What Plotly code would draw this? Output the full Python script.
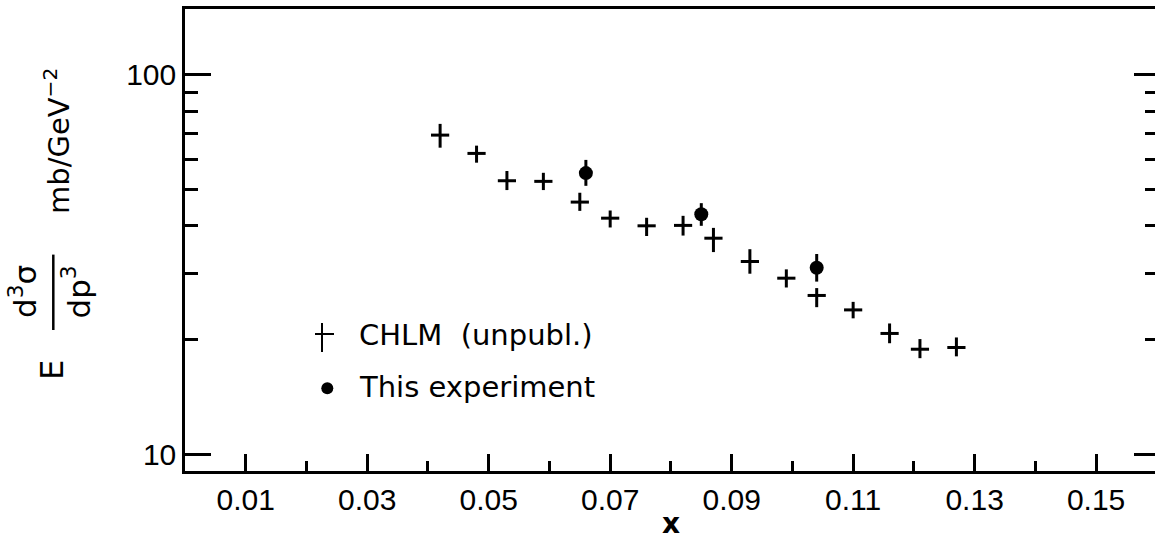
import plotly.graph_objects as go

# ---- data ----
chlm_x = [0.042, 0.048, 0.053, 0.059, 0.065, 0.070, 0.076, 0.082, 0.087,
          0.093, 0.099, 0.104, 0.110, 0.116, 0.121, 0.127]
chlm_y = [69.4, 62.1, 52.6, 52.4, 46.2, 41.9, 40.0, 40.1, 37.1,
          32.2, 29.1, 26.2, 24.0, 20.8, 18.9, 19.1]
chlm_hi = [74.3, 65.1, 55.8, 55.2, 48.9, 43.9, 42.0, 42.5, 39.5,
           34.7, 30.7, 27.4, 25.2, 22.1, 20.1, 20.3]
chlm_lo = [64.3, 58.7, 49.7, 49.7, 43.8, 39.6, 37.6, 37.7, 34.1,
           29.9, 27.5, 24.4, 22.8, 19.6, 17.9, 18.1]

exp_x = [0.066, 0.085, 0.104]
exp_y = [55.1, 42.9, 31.0]
exp_hi = [59.7, 45.9, 33.7]
exp_lo = [51.0, 40.0, 28.5]

x_major = [0.01, 0.03, 0.05, 0.07, 0.09, 0.11, 0.13, 0.15]
x_labels = ["0.01", "0.03", "0.05", "0.07", "0.09", "0.11", "0.13", "0.15"]
x_minor = [0.02, 0.04, 0.06, 0.08, 0.10, 0.12, 0.14]
y_major = [10, 100]
y_labels = ["10", "100"]
y_minor = [20, 30, 40, 50, 60, 70, 80, 90]

legend_labels = ["CHLM  (unpubl.)", "This experiment"]

# ---- geometry helpers (pixel -> paper) ----
W, H = 1155, 541
L, R, T, B = 185, 0, 9, 70
PW, PH = W - L - R, H - T - B


def px(x):
    return (x - L) / PW


def py(y):
    return (H - B - y) / PH


fig = go.Figure()

fig.add_trace(go.Scatter(
    x=chlm_x, y=chlm_y, mode="markers", showlegend=False,
    marker=dict(symbol="line-ew", size=13, color="black",
                line=dict(width=3, color="black")),
    error_y=dict(type="data", symmetric=False,
                 array=[h - v for h, v in zip(chlm_hi, chlm_y)],
                 arrayminus=[v - l for v, l in zip(chlm_y, chlm_lo)],
                 width=0, thickness=3, color="black"),
))

fig.add_trace(go.Scatter(
    x=exp_x, y=exp_y, mode="markers", showlegend=False,
    marker=dict(symbol="circle", size=14, color="black",
                line=dict(width=0)),
    error_y=dict(type="data", symmetric=False,
                 array=[h - v for h, v in zip(exp_hi, exp_y)],
                 arrayminus=[v - l for v, l in zip(exp_y, exp_lo)],
                 width=0, thickness=3, color="black"),
))

# dummy trace for right-hand mirrored tick axis
fig.add_trace(go.Scatter(x=[None], y=[None], yaxis="y2", showlegend=False,
                         hoverinfo="skip"))

tick_font = dict(family="Liberation Sans, Arial, sans-serif", size=30, color="black")
yr = [0.95515, 2.1741]

fig.update_layout(
    width=W, height=H,
    margin=dict(l=L, r=R, t=T, b=B, pad=0),
    paper_bgcolor="white", plot_bgcolor="white",
    xaxis=dict(
        range=[0, PW / 6074.0], showgrid=False, zeroline=False,
        showline=True, linewidth=2.5, linecolor="black", mirror=True,
        ticks="inside", ticklen=17, tickwidth=2.5, tickcolor="black",
        tickmode="array", tickvals=x_major, ticktext=x_labels,
        tickfont=tick_font,
        minor=dict(tickmode="array", tickvals=x_minor, ticks="inside",
                   ticklen=10, tickwidth=2.5, tickcolor="black", showgrid=False),
    ),
    yaxis=dict(
        type="log", range=yr, showgrid=False, zeroline=False,
        showline=True, linewidth=2.5, linecolor="black", mirror=False,
        ticks="inside", ticklen=26, tickwidth=2.5, tickcolor="black",
        tickmode="array", tickvals=y_major, ticktext=y_labels,
        tickfont=tick_font,
        minor=dict(tickmode="array", tickvals=y_minor, ticks="inside",
                   ticklen=13, tickwidth=2.5, tickcolor="black", showgrid=False),
    ),
    yaxis2=dict(
        type="log", range=yr, overlaying="y", side="right",
        showgrid=False, zeroline=False, showline=False, showticklabels=False,
        ticks="inside", ticklen=21, tickwidth=2.5, tickcolor="black",
        tickmode="array", tickvals=y_major,
        minor=dict(tickmode="array", tickvals=y_minor, ticks="inside",
                   ticklen=10, tickwidth=2.5, tickcolor="black", showgrid=False),
    ),
)

txt_font = dict(family="DejaVu Sans, sans-serif", size=29, color="black")

# legend (manual)
fig.add_shape(type="line", xref="paper", yref="paper",
              x0=px(322), x1=px(322), y0=py(323), y1=py(352),
              line=dict(color="black", width=2))
fig.add_shape(type="line", xref="paper", yref="paper",
              x0=px(315), x1=px(334), y0=py(334), y1=py(334),
              line=dict(color="black", width=2))
fig.add_shape(type="circle", xref="paper", yref="paper",
              x0=px(321.3), x1=px(333.3), y0=py(382.3), y1=py(394.3),
              fillcolor="black", line=dict(color="black", width=0))
fig.add_annotation(xref="paper", yref="paper", x=px(357), y=py(335),
                   xanchor="left", yanchor="middle", showarrow=False,
                   text=legend_labels[0], font=txt_font)
fig.add_annotation(xref="paper", yref="paper", x=px(357), y=py(387),
                   xanchor="left", yanchor="middle", showarrow=False,
                   text=legend_labels[1], font=txt_font)

# x-axis title
fig.add_annotation(xref="paper", yref="paper", x=px(671), y=py(523),
                   xanchor="center", yanchor="middle", showarrow=False,
                   text="<b>x</b>", font=dict(family="DejaVu Sans, sans-serif",
                                              size=28, color="black"))

# y-axis title pieces (rotated)
ylab_font = dict(family="DejaVu Sans, sans-serif", size=29, color="black")
e_font = dict(family="DejaVu Sans, sans-serif", size=32, color="black")
frac_font = dict(family="DejaVu Sans, sans-serif", size=31, color="black")
fig.add_annotation(xref="paper", yref="paper", x=px(52), y=py(370),
                   xanchor="center", yanchor="middle", showarrow=False,
                   textangle=-90, text="E", font=e_font)
fig.add_annotation(xref="paper", yref="paper", x=px(23), y=py(292),
                   xanchor="center", yanchor="middle", showarrow=False,
                   textangle=-90, text="d<sup>3</sup>σ", font=frac_font)
fig.add_annotation(xref="paper", yref="paper", x=px(76), y=py(292.5),
                   xanchor="center", yanchor="middle", showarrow=False,
                   textangle=-90, text="dp<sup>3</sup>", font=frac_font)
fig.add_shape(type="line", xref="paper", yref="paper",
              x0=px(53.3), x1=px(53.3), y0=py(254.6), y1=py(330),
              line=dict(color="black", width=2.5))
fig.add_annotation(xref="paper", yref="paper", x=px(57), y=py(141),
                   xanchor="center", yanchor="middle", showarrow=False,
                   textangle=-90, text="mb/GeV<sup>−2</sup>", font=ylab_font)

fig.write_html("out.html")
